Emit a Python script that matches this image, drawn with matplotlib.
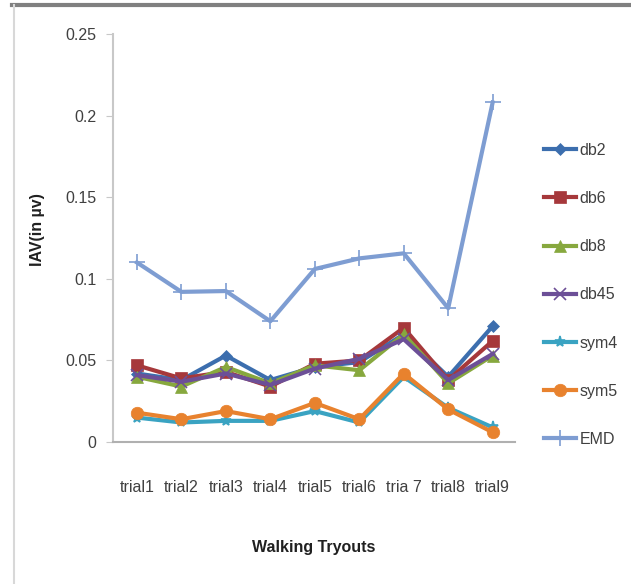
import matplotlib.pyplot as plt
from matplotlib.lines import Line2D
import numpy as np

trials = ['trial1', 'trial2', 'trial3', 'trial4', 'trial5', 'trial6', 'tria 7', 'trial8', 'trial9']

db2 = [0.042, 0.038, 0.053, 0.038, 0.046, 0.049, 0.066, 0.040, 0.071]
db6 = [0.047, 0.039, 0.043, 0.034, 0.048, 0.050, 0.070, 0.038, 0.062]
db8 = [0.040, 0.034, 0.046, 0.036, 0.047, 0.044, 0.066, 0.036, 0.053]
db45 = [0.041, 0.037, 0.042, 0.035, 0.045, 0.051, 0.063, 0.038, 0.054]
sym4 = [0.015, 0.012, 0.013, 0.013, 0.019, 0.012, 0.040, 0.021, 0.009]
sym5 = [0.018, 0.014, 0.019, 0.014, 0.024, 0.014, 0.042, 0.020, 0.006]
emd = [0.110, 0.092, 0.0925, 0.074, 0.106, 0.1125, 0.1156, 0.082, 0.208]

series = [
    ('db2', db2, '#3C6EAE', 'D', 6),
    ('db6', db6, '#A6383B', 's', 9),
    ('db8', db8, '#87A83E', '^', 8),
    ('db45', db45, '#6C4F97', 'x', 8),
    ('sym4', sym4, '#3AA3C2', '*', 8),
    ('sym5', sym5, '#E8822E', 'o', 9),
    ('EMD', emd, '#7E9DD2', '+', 12),
]

font = 'Liberation Sans'

fig = plt.figure(figsize=(6.31, 5.84), dpi=100)
ax = fig.add_axes([0.179, 0.243, 0.637, 0.699])

x = np.arange(len(trials))
for name, vals, col, mk, ms in series:
    ax.plot(x, vals, color=col, lw=3, marker=mk, markersize=ms,
            markeredgewidth=1.2 if mk in ('x', '+', '*') else 0.5,
            markeredgecolor=col, label=name)

ax.set_xlim(-0.54, 8.5)
ax.set_ylim(0, 0.25)
ax.set_yticks([0, 0.05, 0.1, 0.15, 0.2, 0.25])
ax.set_yticklabels(['0', '0.05', '0.1', '0.15', '0.2', '0.25'])
ax.set_xticks(x)
ax.set_xticklabels(trials)

for lab in ax.get_xticklabels() + ax.get_yticklabels():
    lab.set_fontfamily(font)
    lab.set_fontsize(11.5)
    lab.set_color('#404040')

ax.spines['top'].set_visible(False)
ax.spines['right'].set_visible(False)
ax.spines['left'].set_color('#C8C8C8')
ax.spines['bottom'].set_color('#B0B0B0')
ax.spines['left'].set_linewidth(1.5)
ax.spines['bottom'].set_linewidth(1.5)
ax.tick_params(axis='y', length=5, color='#C8C8C8', pad=7)
ax.tick_params(axis='x', length=0, pad=27)

ax.set_ylabel('IAV(in µv)', fontsize=11.5, fontweight='bold', fontfamily=font, color='#202020')
ax.yaxis.set_label_coords(-0.17, 0.52)
ax.set_xlabel('Walking Tryouts', fontsize=11.5, fontweight='bold', fontfamily=font, color='#202020')
ax.xaxis.set_label_coords(0.5, -0.24)

leg = ax.legend(loc='center left', bbox_to_anchor=(0.84, 0.495),
                bbox_transform=fig.transFigure, frameon=False,
                handlelength=2.0, handletextpad=0.2, labelspacing=2.08,
                prop={'family': font, 'size': 11.5})
for t in leg.get_texts():
    t.set_color('#404040')

# outer chart frame
fig.add_artist(Line2D([0.019, 1.0], [0.991, 0.991], transform=fig.transFigure,
                      color='#808080', lw=3))
fig.add_artist(Line2D([0.022, 0.022], [0.0, 0.991], transform=fig.transFigure,
                      color='#D8D8D8', lw=1.5))

fig.savefig('out.png', dpi=100)
